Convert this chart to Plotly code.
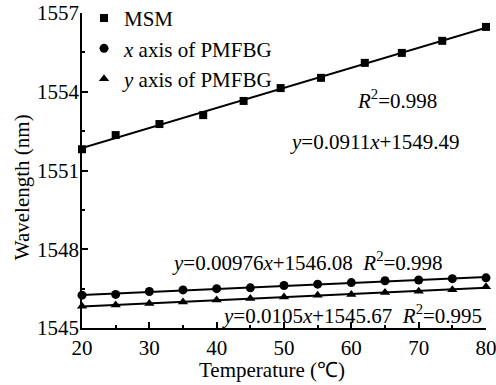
import numpy as np
import plotly.graph_objects as go

# ---- data ----
msm_x = [20, 25, 31.5, 38, 44, 49.5, 55.5, 62, 67.5, 73.5, 80]
msm_y = [1551.81, 1552.35, 1552.77, 1553.11, 1553.65, 1554.14, 1554.53, 1555.10, 1555.48, 1555.94, 1556.47]

pm_x = [20, 25, 30, 35, 40, 45, 50, 55, 60, 65, 70, 75, 80]
xaxis_y = [1546.25, 1546.28, 1546.39, 1546.45, 1546.50, 1546.53, 1546.62, 1546.67, 1546.73, 1546.80, 1546.83, 1546.88, 1546.91]
yaxis_y = [1545.83, 1545.88, 1545.93, 1545.99, 1546.07, 1546.12, 1546.18, 1546.25, 1546.28, 1546.35, 1546.40, 1546.46, 1546.57]

series_names = ["MSM", "<i>x</i> axis of PMFBG", "<i>y</i> axis of PMFBG"]
x_ticks = [20, 30, 40, 50, 60, 70, 80]
y_ticks = [1545, 1548, 1551, 1554, 1557]
x_title = "Temperature (℃)"
y_title = "Wavelength (nm)"

FONT = "Liberation Serif, Times New Roman, serif"
fs = 21
tfont = dict(family=FONT, size=fs, color="black")

fig = go.Figure()

series = [
    (msm_x, msm_y, "square", 8),
    (pm_x, xaxis_y, "circle", 9),
    (pm_x, yaxis_y, "triangle-up", 9),
]

for (xs, ys, sym, sz), name in zip(series, series_names):
    k, b = np.polyfit(xs, ys, 1)
    lx = np.array([min(xs), max(xs)])
    fig.add_trace(go.Scatter(x=lx, y=k * lx + b, mode="lines",
                             line=dict(color="black", width=2),
                             showlegend=False, hoverinfo="skip", cliponaxis=False))
    fig.add_trace(go.Scatter(x=xs, y=ys, mode="markers", name=name,
                             marker=dict(symbol=sym, size=sz, color="black"),
                             cliponaxis=False))

annots = [
    (60.5, 1553.72, "<i>R</i><sup>2</sup>=0.998"),
    (50.6, 1552.08, "<i>y</i>=0.0911<i>x</i>+1549.49"),
    (33.1, 1547.53, "<i>y</i>=0.00976<i>x</i>+1546.08  <i>R</i><sup>2</sup>=0.998"),
    (40.5, 1545.51, "<i>y</i>=0.0105<i>x</i>+1545.67  <i>R</i><sup>2</sup>=0.995"),
]
for ax_, ay_, txt in annots:
    fig.add_annotation(x=ax_, y=ay_, text=txt, showarrow=False, xanchor="left",
                       yanchor="middle", font=tfont)

# axis titles as annotations (placed like the reference)
fig.add_annotation(xref="paper", yref="paper", x=0.470, y=-0.133, text=x_title,
                   showarrow=False, xanchor="center", yanchor="middle", font=tfont)
fig.add_annotation(xref="paper", yref="paper", x=-0.148, y=0.4476, text=y_title,
                   textangle=-90, showarrow=False, xanchor="center", yanchor="middle", font=tfont)

axis_common = dict(showline=True, linecolor="black", linewidth=1.5, ticks="inside",
                   tickcolor="black", tickwidth=1.5, showgrid=False, zeroline=False,
                   automargin=False, tickfont=tfont, ticklabeloverflow="allow")

fig.update_xaxes(range=[20, 80], tickvals=x_ticks, ticklen=6,
                 minor=dict(ticks="inside", dtick=5, ticklen=3, tickcolor="black", tickwidth=1.5),
                 ticklabelstandoff=0, **axis_common)
fig.update_yaxes(range=[1545, 1557], tickvals=y_ticks, ticklen=6,
                 minor=dict(ticks="inside", dtick=1.5, ticklen=3, tickcolor="black", tickwidth=1.5),
                 ticklabelstandoff=-3, **axis_common)

fig.update_layout(
    width=496, height=385,
    margin=dict(l=82, r=10, t=13, b=57, autoexpand=False),
    paper_bgcolor="white", plot_bgcolor="white",
    font=tfont,
    legend=dict(x=0.005, y=1.048, xanchor="left", yanchor="top",
                bgcolor="rgba(0,0,0,0)", font=tfont,
                itemwidth=30, tracegroupgap=0),
)

fig.write_html("out.html", config={"displayModeBar": False},
               post_script="document.body.style.margin='0';")
